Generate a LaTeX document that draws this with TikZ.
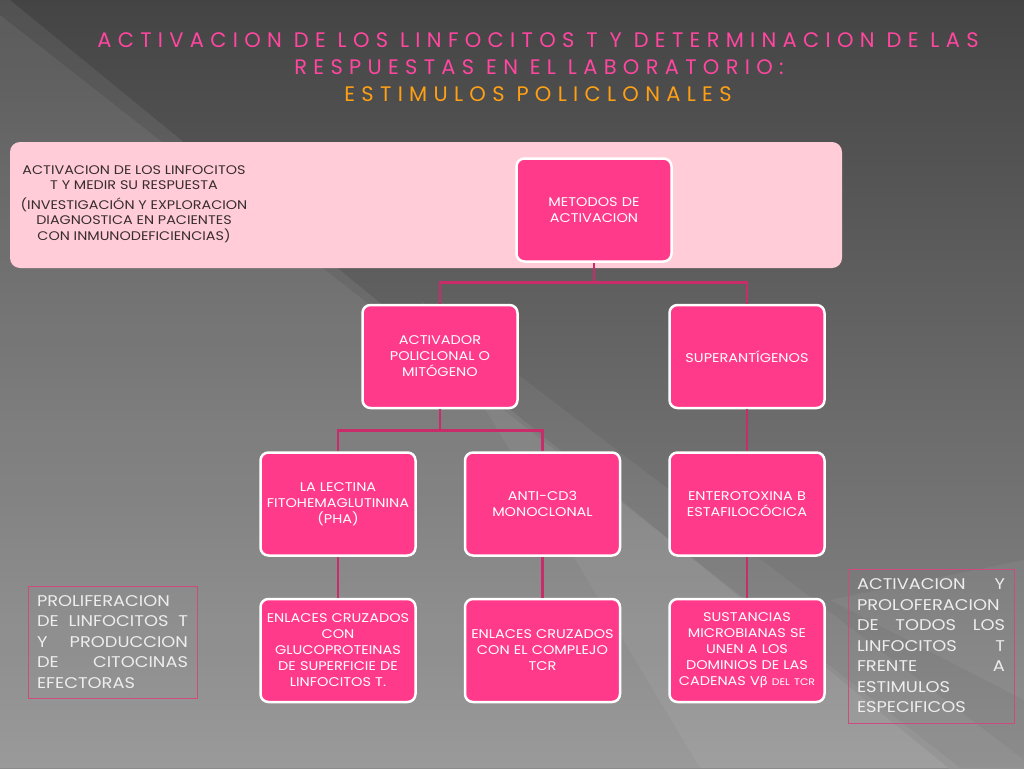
\documentclass[tikz,border=0pt]{standalone}
\usepackage{fontspec}
\setmainfont[FakeStretch=1.15]{Poppins}
\newfontfamily\titlefam[LetterSpace=30]{Poppins}
\newfontfamily\grfont[FakeStretch=1.1]{Lato}
\usetikzlibrary{positioning}
\definecolor{titlepink}{RGB}{255,70,160}
\definecolor{titleorange}{RGB}{255,160,20}
\definecolor{boxpink}{RGB}{255,58,138}
\definecolor{lightpink}{RGB}{255,204,216}
\definecolor{linkpink}{RGB}{200,45,105}
\definecolor{framepink}{RGB}{205,75,125}
\definecolor{darktext}{RGB}{55,45,45}
\definecolor{bgtop}{RGB}{68,68,68}
\definecolor{bgbot}{RGB}{140,140,140}
\tikzset{
  hbox/.style={draw=white, line width=2.5pt, fill=boxpink, rounded corners=8pt,
    minimum width=155pt, minimum height=103pt, text width=152pt, align=center,
    text=white, font=\fontsize{12.6}{16}\selectfont, inner sep=1pt},
  link/.style={draw=linkpink, line width=2.6pt},
  frame/.style={draw=framepink, line width=1pt, text=white!93!black, align=left,
    font=\fontsize{15.5}{20.5}\selectfont, inner sep=9pt},
  titlefont/.style={font=\titlefam\fontsize{21}{26}\selectfont}
}
\begin{document}
\begin{tikzpicture}[x=1pt,y=-1pt]
\useasboundingbox (0,0) rectangle (1024,768);
% background
\shade[top color=bgtop, bottom color=bgbot] (0,0) rectangle (1024,768);
\fill[white, opacity=0.07] (0,0) -- (0,768) -- (1024,768) -- (1024,830) -- (10,0) -- cycle;
\fill[white, opacity=0.06] (0,15) -- (0,768) -- (960,768) -- cycle;
\fill[white, opacity=0.05] (420,300) -- (1024,760) -- (1024,768) -- (700,768) -- cycle;
\fill[white, opacity=0.05] (1024,560) -- (830,600) -- (1024,700) -- cycle;
% title
\node[titlefont, text=titlepink] (t1) at (538,40) {ACTIVACION DE LOS LINFOCITOS T Y DETERMINACION DE LAS};
\node[titlefont, text=titlepink] (t2) at (539,67) {RESPUESTAS EN EL LABORATORIO:};
\node[titlefont, text=titleorange] (t3) at (538,94) {ESTIMULOS POLICLONALES};
% big light panel
\node[fill=lightpink, rounded corners=10pt, minimum width=832pt, minimum height=126pt, inner sep=0pt] (panel) at (426,205) {};
\node[text=darktext, align=center, font=\fontsize{12.5}{15.5}\selectfont] (ptext) at (134,204)
  {ACTIVACION DE LOS LINFOCITOS\\T Y MEDIR SU RESPUESTA\\[4pt](INVESTIGACIÓN Y EXPLORACION\\DIAGNOSTICA EN PACIENTES\\CON INMUNODEFICIENCIAS)};
% boxes
\node[hbox] (met) at (594,210) {METODOS DE\\ACTIVACION};
\node[hbox] (act) at (440,356.5) {ACTIVADOR\\POLICLONAL O\\MITÓGENO};
\node[hbox] (sup) at (747,356.5) {SUPERANTÍGENOS};
\node[hbox] (lec) at (338,504) {LA LECTINA\\FITOHEMAGLUTININA\\(PHA)};
\node[hbox] (cd3) at (542.5,504) {ANTI-CD3\\MONOCLONAL};
\node[hbox] (ent) at (747,504) {ENTEROTOXINA B\\ESTAFILOCÓCICA};
\node[hbox] (enl1) at (338,650.5) {ENLACES CRUZADOS\\CON\\GLUCOPROTEINAS\\DE SUPERFICIE DE\\LINFOCITOS T.};
\node[hbox] (enl2) at (542.5,650.5) {ENLACES CRUZADOS\\CON EL COMPLEJO\\TCR};
\node[hbox] (sus) at (747,650.5) {SUSTANCIAS\\MICROBIANAS SE\\UNEN A LOS\\DOMINIOS DE LAS\\CADENAS V{\grfont β} {\fontsize{9.5}{10}\selectfont DEL TCR}};
% connectors
\draw[link] (met.south) -- ++(0,20) -| (act.north);
\draw[link] (met.south) ++(0,20) -| (sup.north);
\draw[link] (act.south) -- ++(0,21) -| (lec.north);
\draw[link] (act.south) ++(0,21) -| (cd3.north);
\draw[link] (sup.south) -- (ent.north);
\draw[link] (lec.south) -- (enl1.north);
\draw[link] (cd3.south) -- (enl2.north);
\draw[link] (ent.south) -- (sus.north);
% side frames
\node[frame, text width=151pt, minimum height=112pt] (lf) at (112.5,642)
  {PROLIFERACION\\DE\hfill LINFOCITOS\hfill T\\Y\hfill PRODUCCION\\DE\hfill CITOCINAS\\EFECTORAS};
\node[frame, text width=148pt, minimum height=154pt] (rf) at (931,646)
  {ACTIVACION\hfill Y\\PROLOFERACION\\DE\hfill TODOS\hfill LOS\\LINFOCITOS\hfill T\\FRENTE\hfill A\\ESTIMULOS\\ESPECIFICOS};
\end{tikzpicture}
\end{document}
